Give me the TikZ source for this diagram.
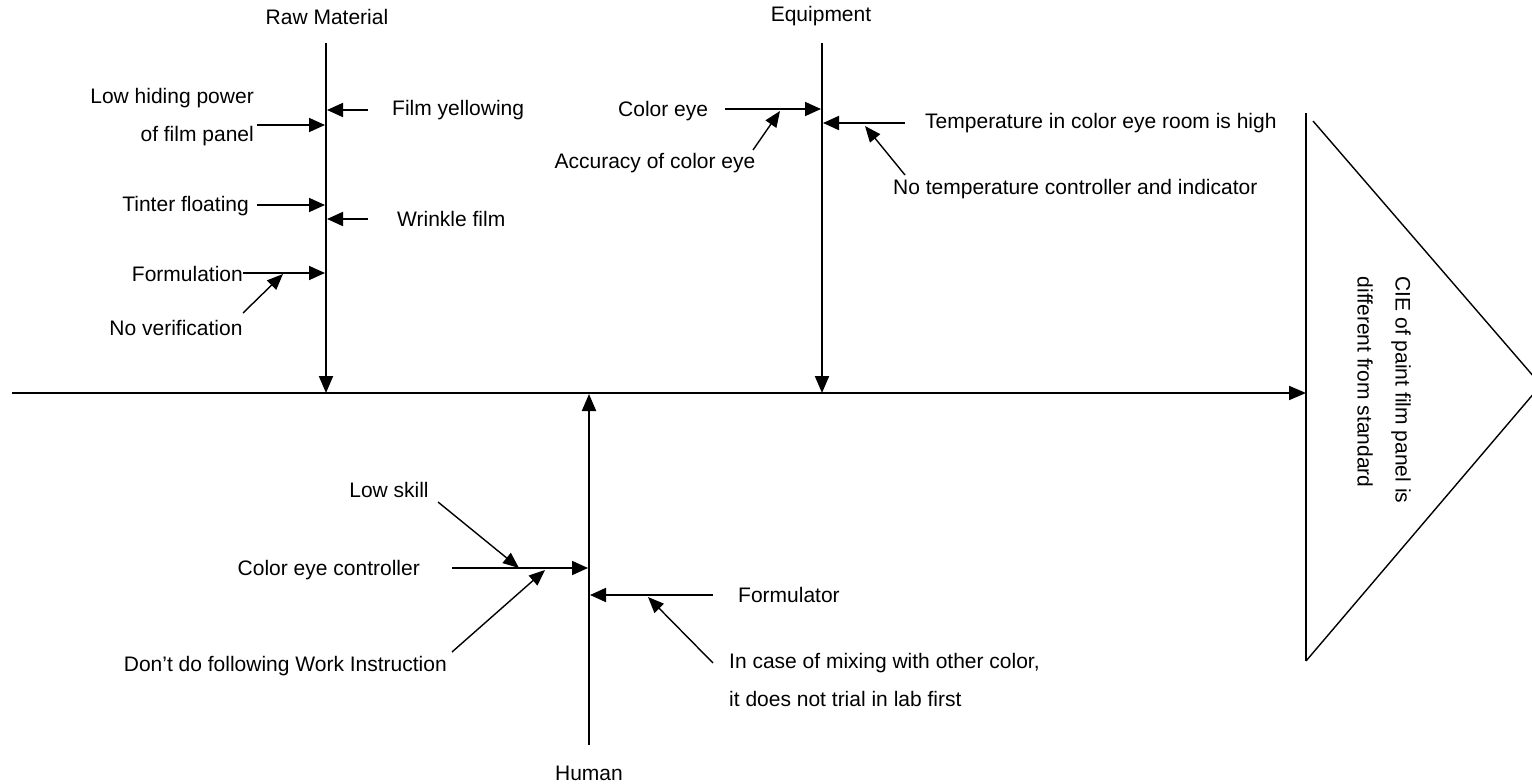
\documentclass[tikz,border=0pt]{standalone}
\usepackage{fontspec}
\setmainfont{Liberation Sans}
\usetikzlibrary{arrows.meta}
\begin{document}
\begin{tikzpicture}[x=1pt,y=-1pt,
  lbl/.style={font=\fontsize{21}{25}\selectfont, inner sep=0pt},
  twoline/.style={font=\fontsize{21}{38}\selectfont, inner sep=0pt},
  bone/.style={line width=2pt, -{Triangle[length=17pt,width=14pt]}},
  sub/.style={line width=1.8pt, -{Triangle[length=16pt,width=14pt]}},
  subsub/.style={line width=1.4pt, -{Triangle[length=16pt,width=13pt]}},
  head/.style={line width=1.4pt}]
\useasboundingbox (0,0) rectangle (1532,784);

% ---- spine and head ----
\coordinate (spS) at (12,393);
\coordinate (spE) at (1306,393);
\draw[bone] (spS) -- (spE);
\coordinate (hdT) at (1306,113);
\coordinate (hdB) at (1306,661);
\coordinate (hdA) at (1541,385);
\coordinate (hdD) at (1313,121);
\draw[line width=2pt] (hdT) -- (hdB);
\draw[head] (hdD) -- (hdA) -- (hdB);
\node[font=\fontsize{21}{38}\selectfont, inner sep=0pt, rotate=-90, align=left]
  (effect) at (1384,390) {CIE of paint film panel is\\different from standard};

% ---- main bones ----
\node[lbl] (raw) at (327,17) {Raw Material};
\node[lbl] (equ) at (821,16) {Equipment};
\node[lbl] (hum) at (589,773) {Human};
\coordinate (rmT) at (326,43);  \coordinate (rmE) at (326,393);
\coordinate (eqT) at (822,43);  \coordinate (eqE) at (822,393);
\coordinate (huT) at (589,745); \coordinate (huE) at (589,394);
\draw[bone] (rmT) -- (rmE);
\draw[bone] (eqT) -- (eqE);
\draw[bone] (huT) -- (huE);

% ---- raw material causes ----
\node[twoline, align=right, anchor=east] (lowhide) at (254,117) {Low hiding power\\of film panel};
\node[lbl, anchor=west] (filmyel) at (392,110) {Film yellowing};
\node[lbl, anchor=east] (tinter) at (249,206) {Tinter floating};
\node[lbl, anchor=west] (wrinkle) at (397,219) {Wrinkle film};
\node[lbl, anchor=east] (formul) at (243,274) {Formulation};
\node[lbl] (noverif) at (176,328) {No verification};

\coordinate (a1) at (257,125); \coordinate (b1) at (325,125);
\coordinate (a2) at (368,110); \coordinate (b2) at (327,110);
\coordinate (a3) at (257,205); \coordinate (b3) at (325,205);
\coordinate (a4) at (368,219); \coordinate (b4) at (327,219);
\coordinate (b5) at (325,273);
\coordinate (a6) at (243,313); \coordinate (b6) at (283,274);
\draw[sub] (a1) -- (b1);
\draw[sub] (a2) -- (b2);
\draw[sub] (a3) -- (b3);
\draw[sub] (a4) -- (b4);
\draw[sub] (formul.east |- b5) -- (b5);
\draw[subsub] (a6) -- (b6);

% ---- equipment causes ----
\node[lbl, anchor=west] (coloreye) at (618,111) {Color eye};
\node[lbl] (accur) at (655,163) {Accuracy of color eye};
\node[lbl, anchor=west] (temp) at (925,123) {Temperature in color eye room is high};
\node[lbl, anchor=west] (notemp) at (893,189) {No temperature controller and indicator};

\coordinate (c1) at (725,109); \coordinate (d1) at (821,109);
\coordinate (c2) at (753,150); \coordinate (d2) at (780,111);
\coordinate (c3) at (905,123); \coordinate (d3) at (823,123);
\coordinate (c4) at (905,175); \coordinate (d4) at (865,126);
\draw[sub] (c1) -- (d1);
\draw[subsub] (c2) -- (d2);
\draw[sub] (c3) -- (d3);
\draw[subsub] (c4) -- (d4);

% ---- human causes ----
\node[lbl] (lowskill) at (389,490) {Low skill};
\node[lbl, anchor=east] (cectrl) at (420,570) {Color eye controller};
\node[lbl, anchor=east] (dont) at (447,666) {Don't do following Work Instruction};
\node[lbl, anchor=west] (formtor) at (738,595) {Formulator};
\node[twoline, align=left, anchor=west] (incase) at (729,680) {In case of mixing with other color,\\it does not trial in lab first};

\coordinate (e1) at (438,502); \coordinate (f1) at (519,568);
\coordinate (e2) at (452,568); \coordinate (f2) at (588,568);
\coordinate (e3) at (452,652); \coordinate (f3) at (545,570);
\coordinate (e4) at (713,595); \coordinate (f4) at (590,595);
\coordinate (e5) at (713,663); \coordinate (f5) at (648,597);
\draw[subsub] (e1) -- (f1);
\draw[sub] (e2) -- (f2);
\draw[subsub] (e3) -- (f3);
\draw[sub] (e4) -- (f4);
\draw[subsub] (e5) -- (f5);
\end{tikzpicture}
\end{document}
